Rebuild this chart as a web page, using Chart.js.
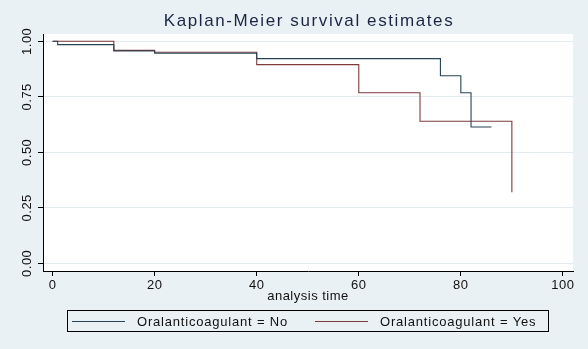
<!DOCTYPE html>
<html>
<head>
<meta charset="utf-8">
<script src="https://cdn.jsdelivr.net/npm/chart.js@4/dist/chart.umd.min.js"></script>
<style>
  html, body { margin: 0; padding: 0; background: #eaf1f4; }
  #wrap { width: 588px; height: 349px; }
</style>
</head>
<body>
<div id="wrap"><canvas id="kmChart" width="588" height="349"></canvas></div>
<script>
// Kaplan-Meier step points: time and survival probability
const noTimes = [0, 1, 12, 20, 40, 76, 80, 82, 86];
const noSurv = [1.000, 0.985, 0.956, 0.946, 0.922, 0.845, 0.768, 0.614, 0.614];
const yesTimes = [0, 12, 20, 40, 60, 72, 90];
const yesSurv = [1.000, 0.959, 0.951, 0.895, 0.768, 0.640, 0.320];

const xTicks = [0, 20, 40, 60, 80, 100];
const yTicks = [0, 0.25, 0.5, 0.75, 1];
const seriesLabels = ['Oralanticoagulant = No', 'Oralanticoagulant = Yes'];

const BG = '#eaf1f4';

function toPoints(xs, ys) {
    return xs.map((x, i) => ({ x: x, y: ys[i] }));
}

// background, white plot region, title and boxed legend
const stataLook = {
    id: 'stataLook',
    beforeDraw(chart) {
        const { ctx, chartArea } = chart;
        ctx.save();
        ctx.fillStyle = BG;
        ctx.fillRect(0, 0, chart.width, chart.height);
        ctx.fillStyle = '#ffffff';
        ctx.fillRect(chartArea.left, chartArea.top, chartArea.right - chartArea.left, chartArea.bottom - chartArea.top);
        ctx.restore();
        ctx.letterSpacing = '0.5px';
    },
    afterDraw(chart) {
        const { ctx, chartArea } = chart;
        ctx.save();
        ctx.letterSpacing = '1.6px';
        ctx.font = '17px "Liberation Sans", Arial, sans-serif';
        ctx.fillStyle = '#1a2644';
        ctx.textAlign = 'center';
        ctx.textBaseline = 'alphabetic';
        ctx.fillText('Kaplan-Meier survival estimates', (chartArea.left + chartArea.right) / 2 + 1, 26);
        ctx.restore();

        ctx.save();
        ctx.strokeStyle = '#000';
        ctx.lineWidth = 1;
        ctx.strokeRect(67.5, 310.5, 481, 21);
        ctx.letterSpacing = '0.8px';
        ctx.font = '13px "Liberation Sans", Arial, sans-serif';
        ctx.textBaseline = 'alphabetic';
        ctx.textAlign = 'left';
        const starts = [72, 315];
        chart.data.datasets.forEach((ds, i) => {
            const lx = starts[i];
            ctx.strokeStyle = ds.borderColor;
            ctx.beginPath();
            ctx.moveTo(lx, 321.5);
            ctx.lineTo(lx + 53, 321.5);
            ctx.stroke();
            ctx.fillStyle = '#111';
            ctx.fillText(ds.label, lx + 65, 326);
        });
        ctx.restore();
    }
};

const ctx = document.getElementById('kmChart').getContext('2d');

new Chart(ctx, {
    type: 'scatter',
    data: {
        datasets: [{
            label: seriesLabels[0],
            data: toPoints(noTimes, noSurv),
            borderColor: '#264455',
            backgroundColor: '#264455',
            borderWidth: 1.1,
            showLine: true,
            stepped: true,
            pointRadius: 0
        }, {
            label: seriesLabels[1],
            data: toPoints(yesTimes, yesSurv),
            borderColor: '#7e3b3c',
            backgroundColor: '#7e3b3c',
            borderWidth: 1.1,
            showLine: true,
            stepped: true,
            pointRadius: 0
        }]
    },
    options: {
        responsive: false,
        animation: false,
        layout: {
            padding: { top: 34, right: 15, bottom: 45, left: 0 }
        },
        plugins: {
            legend: { display: false },
            title: { display: false },
            tooltip: { enabled: false }
        },
        scales: {
            x: {
                type: 'linear',
                min: -1.88,
                max: 101.98,
                afterBuildTicks: scale => {
                    scale.ticks = xTicks.map(v => ({ value: v }));
                },
                afterFit: scale => {
                    scale.height = 33;
                    scale.paddingLeft = 0;
                    scale.paddingRight = 0;
                },
                ticks: {
                    autoSkip: false,
                    maxRotation: 0,
                    padding: 2,
                    color: '#111',
                    font: { family: '"Liberation Sans", Arial, sans-serif', size: 13 },
                    callback: v => String(v)
                },
                grid: {
                    drawOnChartArea: false,
                    drawTicks: true,
                    tickLength: 5,
                    tickColor: '#000'
                },
                border: { color: '#000', width: 1 },
                title: {
                    display: true,
                    text: 'analysis time',
                    color: '#111',
                    padding: 0,
                    font: { family: '"Liberation Sans", Arial, sans-serif', size: 13 }
                }
            },
            y: {
                type: 'linear',
                min: -0.0347,
                max: 1.0329,
                afterBuildTicks: scale => {
                    scale.ticks = yTicks.map(v => ({ value: v }));
                },
                afterFit: scale => {
                    scale.width = 43;
                    scale.paddingTop = 0;
                    scale.paddingBottom = 0;
                },
                ticks: {
                    autoSkip: false,
                    minRotation: 90,
                    maxRotation: 90,
                    crossAlign: 'center',
                    padding: -2,
                    color: '#111',
                    font: { family: '"Liberation Sans", Arial, sans-serif', size: 13 },
                    callback: v => Number(v).toFixed(2)
                },
                grid: {
                    color: '#e3ebef',
                    drawTicks: true,
                    tickLength: 5,
                    tickColor: '#000'
                },
                border: { color: '#000', width: 1 }
            }
        }
    },
    plugins: [stataLook]
});
</script>
</body>
</html>
